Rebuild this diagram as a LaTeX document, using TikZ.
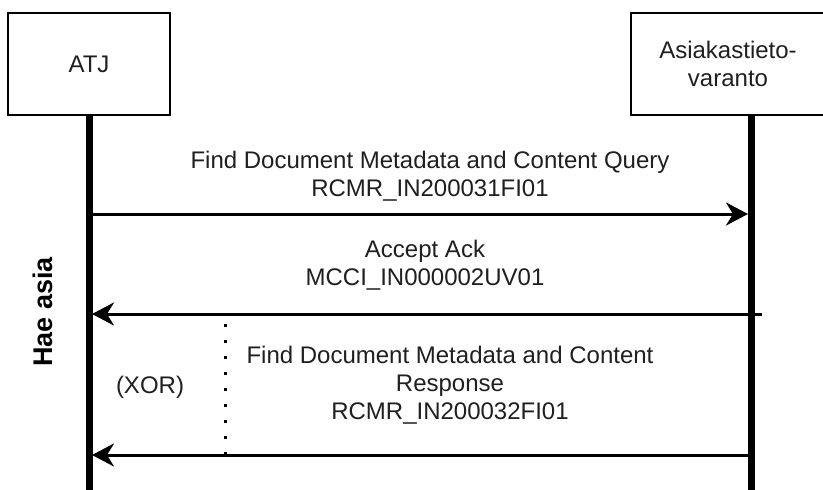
\documentclass[tikz,border=0pt]{standalone}
\usepackage{fontspec}
\setmainfont{Liberation Sans}
\usetikzlibrary{arrows.meta}
\begin{document}
\begin{tikzpicture}[x=1pt,y=-1pt,
  txt/.style={font=\fontsize{24}{28}\selectfont, text=black!88, align=center, inner sep=0pt},
  actor/.style={txt, draw=black, line width=2pt, minimum height=102pt},
  life/.style={line width=7pt},
  msg/.style={line width=3pt, -{Stealth[length=22pt,width=23pt,inset=7pt]}},
  sep/.style={line width=3pt, dash pattern=on 3pt off 13pt}]
\useasboundingbox (0,0) rectangle (823,490);

% participants
\node[actor, minimum width=162pt] (atj) at (89,64) {ATJ};
\node[actor, minimum width=194pt] (atv) at (728,64) {Asiakastieto-\\varanto};

% lifelines
\coordinate (ltop) at (89,115);
\coordinate (lbot) at (89,490);
\coordinate (rtop) at (751,115);
\coordinate (rbot) at (751,490);
\draw[life] (ltop) -- (lbot);
\draw[life] (rtop) -- (rbot);

% message end points
\coordinate (q1) at (92,214);
\coordinate (q2) at (748,214);
\coordinate (k1) at (762,314);
\coordinate (k2) at (92,314);
\coordinate (r1) at (751,455);
\coordinate (r2) at (92,455);

% messages
\draw[msg] (q1) -- (q2);
\draw[msg] (k1) -- (k2);
\draw[msg] (r1) -- (r2);

% alternative separator
\coordinate (d1) at (225,324);
\coordinate (d2) at (225,456);
\draw[sep] (d1) -- (d2);

% labels
\node[txt] (lq) at (430,176) {Find Document Metadata and Content Query\\RCMR\_IN200031FI01};
\node[txt] (lk) at (425,265) {Accept Ack\\MCCI\_IN000002UV01};
\node[txt] (lr) at (450,385) {Find Document Metadata and Content\\Response\\RCMR\_IN200032FI01};
\node[txt] (xor) at (150,387) {(XOR)};
\node[txt, font=\fontsize{27}{30}\selectfont\bfseries, text=black, rotate=90] (hae) at (43,312) {Hae asia};
\end{tikzpicture}
\end{document}
